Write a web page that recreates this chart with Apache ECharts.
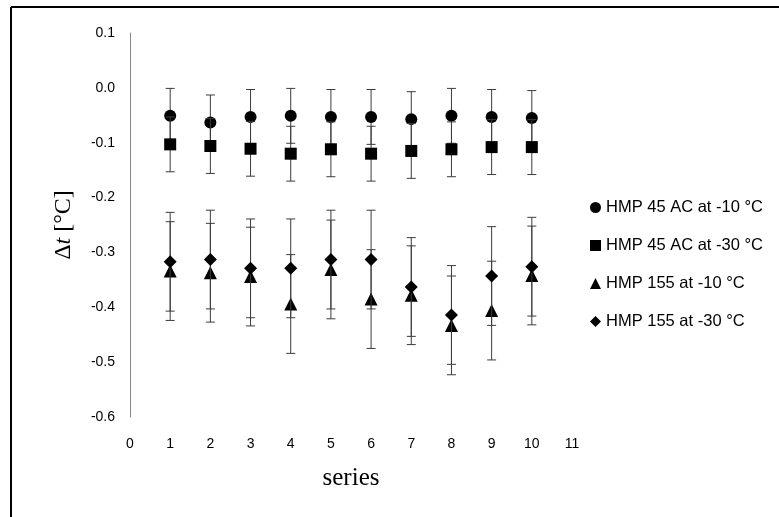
<!DOCTYPE html>
<html>
<head>
<meta charset="utf-8">
<script src="https://cdn.jsdelivr.net/npm/echarts@6/dist/echarts.min.js"></script>
<style>
html,body{margin:0;padding:0;background:#fff;}
#chart{width:779px;height:517px;}
</style>
</head>
<body>
<div id="chart"></div>
<script>
// ---- data ----
const seriesX = [1, 2, 3, 4, 5, 6, 7, 8, 9, 10];
const seriesNames = ['HMP 45 AC at -10 °C', 'HMP 45 AC at -30 °C', 'HMP 155 at -10 °C', 'HMP 155 at -30 °C'];
const hmp45m10 = [-0.051, -0.063, -0.053, -0.051, -0.053, -0.053, -0.057, -0.051, -0.053, -0.055];
const hmp45m30 = [-0.103, -0.106, -0.111, -0.120, -0.112, -0.120, -0.115, -0.112, -0.108, -0.108];
const hmp155m10 = [-0.334, -0.337, -0.344, -0.394, -0.331, -0.385, -0.378, -0.433, -0.406, -0.342];
const hmp155m30 = [-0.317, -0.313, -0.329, -0.329, -0.313, -0.313, -0.363, -0.414, -0.343, -0.326];
const err45m10 = [0.05, 0.05, 0.05, 0.05, 0.05, 0.05, 0.05, 0.05, 0.05, 0.05];
const err45m30 = [0.05, 0.05, 0.05, 0.05, 0.05, 0.05, 0.05, 0.05, 0.05, 0.05];
const err155m10 = [0.09, 0.09, 0.09, 0.09, 0.09, 0.09, 0.09, 0.09, 0.09, 0.09];
const err155m30 = [0.09, 0.09, 0.09, 0.09, 0.09, 0.09, 0.09, 0.09, 0.09, 0.09];
const yTicks = ['0.1', '0.0', '-0.1', '-0.2', '-0.3', '-0.4', '-0.5', '-0.6'];
const xTicks = ['0', '1', '2', '3', '4', '5', '6', '7', '8', '9', '10', '11'];

const values = [hmp45m10, hmp45m30, hmp155m10, hmp155m30];
const errors = [err45m10, err45m30, err155m10, err155m30];
const symbols = ['circle', 'rect', 'triangle', 'diamond'];
const sizes = [12, 12, 13, 13];

const chart = echarts.init(document.getElementById('chart'), null, {renderer: 'canvas'});

function errRender(params, api) {
  const x = api.value(0), y = api.value(1), e = api.value(2);
  const top = api.coord([x, y + e]);
  const bot = api.coord([x, y - e]);
  const w = 4.5;
  const st = {stroke: '#3c3c3c', lineWidth: 1};
  return {
    type: 'group',
    children: [
      {type: 'line', shape: {x1: top[0], y1: top[1], x2: bot[0], y2: bot[1]}, style: st},
      {type: 'line', shape: {x1: top[0] - w, y1: top[1], x2: top[0] + w, y2: top[1]}, style: st},
      {type: 'line', shape: {x1: bot[0] - w, y1: bot[1], x2: bot[0] + w, y2: bot[1]}, style: st}
    ]
  };
}

const series = [];
for (let i = 0; i < 4; i++) {
  series.push({
    name: 'err' + i,
    type: 'custom',
    renderItem: errRender,
    data: seriesX.map((x, j) => [x, values[i][j], errors[i][j]]),
    z: 2 + i * 2,
    silent: true
  });
  series.push({
    name: seriesNames[i],
    type: 'scatter',
    symbol: symbols[i],
    symbolSize: sizes[i],
    itemStyle: {color: '#000', opacity: 1},
    data: seriesX.map((x, j) => [x, values[i][j]]),
    z: 3 + i * 2
  });
}

const option = {
  backgroundColor: '#fff',
  animation: false,
  graphic: [
    {type: 'line', shape: {x1: 11, y1: 7, x2: 779, y2: 7}, style: {stroke: '#000', lineWidth: 2}},
    {type: 'line', shape: {x1: 11, y1: 7, x2: 11, y2: 517}, style: {stroke: '#000', lineWidth: 2}}
  ],
  grid: {left: 130, top: 33, right: 207, bottom: 100},
  legend: {
    data: seriesNames,
    orient: 'vertical',
    left: 585,
    top: 194,
    itemGap: 21,
    itemWidth: 11,
    itemHeight: 11,
    textStyle: {fontFamily: 'Liberation Sans', fontSize: 16.5, color: '#000'}
  },
  xAxis: {
    type: 'value',
    min: 0, max: 11, interval: 1,
    axisLine: {show: false},
    axisTick: {show: false},
    splitLine: {show: false},
    axisLabel: {
      color: '#000', fontFamily: 'Liberation Sans', fontSize: 14, margin: 20,
      formatter: v => xTicks[Math.round(v)]
    },
    name: 'series',
    nameLocation: 'middle',
    nameGap: 49,
    nameTextStyle: {fontFamily: 'Liberation Serif', fontSize: 25, color: '#000'}
  },
  yAxis: {
    type: 'value',
    min: -0.6, max: 0.1, interval: 0.1,
    axisLine: {show: true, lineStyle: {color: '#868686', width: 1}},
    axisTick: {show: false},
    splitLine: {show: false},
    axisLabel: {
      color: '#000', fontFamily: 'Liberation Sans', fontSize: 14, margin: 15,
      formatter: v => yTicks[Math.round((0.1 - v) * 10)]
    },
    name: '{a|Δ}{b|t}{a| [°C]}',
    nameLocation: 'middle',
    nameGap: 54,
    nameRotate: 90,
    nameTextStyle: {
      rich: {
        a: {fontFamily: 'Liberation Serif', fontSize: 24, color: '#000'},
        b: {fontFamily: 'Liberation Serif', fontSize: 24, fontStyle: 'italic', color: '#000'}
      }
    }
  },
  series: series
};
chart.setOption(option);
</script>
</body>
</html>
